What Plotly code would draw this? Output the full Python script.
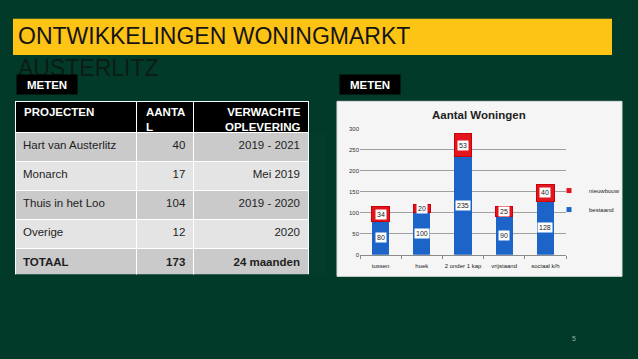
import plotly.graph_objects as go

W, H = 638, 359

# ---- data ----
table_header = ["PROJECTEN", "AANTA<br>L", "VERWACHTE<br>OPLEVERING"]
projects = ["Hart van Austerlitz", "Monarch", "Thuis in het Loo", "Overige", "<b>TOTAAL</b>"]
aantal = ["40", "17", "104", "12", "<b>173</b>"]
oplevering = ["2019 - 2021", "Mei 2019", "2019 - 2020", "2020", "<b>24 maanden</b>"]

categories = ["tussen", "hoek", "2 onder 1 kap", "vrijstaand", "sociaal k/h"]
bestaand = [80, 100, 235, 90, 128]
nieuwbouw = [34, 20, 53, 25, 40]
y_ticks = [0, 50, 100, 150, 200, 250, 300]

BG = "#023a2a"
YELLOW = "#fdc315"
BLUE = "#1c64c8"
RED = "#e3141c"
FONT = "Liberation Sans"

# table geometry (pixels)
TAB_X0, TAB_TOP = 15, 100
COL_W = [121.5, 56.8, 114.7]
HEAD_H, ROW_H = 31, 29
CELL_PAD = 7


def px(x):
    return x / W


def py(y):
    return 1 - y / H


fig = go.Figure()

# ---- table (header text is overlaid as annotations so the row keeps its height) ----
n_rows = len(projects)
fig.add_trace(go.Table(
    domain=dict(x=[px(TAB_X0), px(TAB_X0 + sum(COL_W))],
                y=[py(TAB_TOP + HEAD_H + n_rows * ROW_H), py(TAB_TOP)]),
    columnwidth=COL_W,
    header=dict(values=[" "] * len(table_header), fill_color="black",
                line=dict(color="white", width=1), height=HEAD_H,
                font=dict(family=FONT, size=11.5, color="white")),
    cells=dict(
        values=[projects, aantal, oplevering],
        fill_color=[["#cacaca", "#e4e4e4", "#cacaca", "#e4e4e4", "#cacaca"]] * 3,
        line=dict(color="white", width=1),
        font=dict(family=FONT, size=11.5, color="#1e1e1e"),
        align=["left", "right", "right"],
        height=ROW_H,
    ),
))

# ---- bar chart ----
fig.add_trace(go.Bar(
    x=categories, y=bestaand, name="bestaand", showlegend=False,
    marker=dict(color=BLUE, line=dict(width=0)),
))
fig.add_trace(go.Bar(
    x=categories, y=nieuwbouw, name="nieuwbouw", showlegend=False,
    marker=dict(color=RED, line=dict(color="#c8000a", width=1)),
))
# small square legend symbols
fig.add_trace(go.Scatter(x=[None], y=[None], mode="markers", name="nieuwbouw",
                         marker=dict(symbol="square", size=5, color=RED)))
fig.add_trace(go.Scatter(x=[None], y=[None], mode="markers", name="bestaand",
                         marker=dict(symbol="square", size=5, color=BLUE)))

annotations = []

# table header texts
x_left = TAB_X0
for i, (h, cw) in enumerate(zip(table_header, COL_W)):
    right = i == len(COL_W) - 1
    annotations.append(dict(
        x=px(x_left + cw - 5) if right else px(x_left + CELL_PAD),
        y=py(TAB_TOP + 3), xref="paper", yref="paper",
        xanchor="right" if right else "left", yanchor="top", showarrow=False,
        text=f"<b>{h}</b>", align="right" if right else "left",
        font=dict(family=FONT, size=11.5, color="white"),
    ))
    x_left += cw

# data labels with white boxes
for c, b, n in zip(categories, bestaand, nieuwbouw):
    annotations.append(dict(x=c, y=b / 2, xref="x", yref="y", text=str(b),
                            xanchor="center", yanchor="middle",
                            showarrow=False, bgcolor="white", borderpad=1,
                            font=dict(family=FONT, size=7, color="#222")))
    annotations.append(dict(x=c, y=b + n / 2, xref="x", yref="y", text=str(n),
                            xanchor="center", yanchor="middle",
                            showarrow=False, bgcolor="white", borderpad=1,
                            font=dict(family=FONT, size=7, color="#222")))

# chart title
annotations.append(dict(x=px(479), y=py(114), xref="paper", yref="paper",
                        xanchor="center", yanchor="middle",
                        text="<b>Aantal Woningen</b>", showarrow=False,
                        font=dict(family=FONT, size=11.5, color="#1e1e1e")))

# slide title
annotations.append(dict(x=px(16), y=py(34), xref="paper", yref="paper",
                        xanchor="left", yanchor="middle",
                        text="ONTWIKKELINGEN WONINGMARKT", showarrow=False,
                        font=dict(family=FONT, size=23, color="#141414")))
annotations.append(dict(x=px(16), y=py(66), xref="paper", yref="paper",
                        xanchor="left", yanchor="middle",
                        text="AUSTERLITZ", showarrow=False,
                        font=dict(family=FONT, size=23, color="#0c1c15")))

# METEN labels (drawn after the title so they sit on top)
for x0 in (16, 339):
    annotations.append(dict(x=px(x0), y=py(72.5), xref="paper", yref="paper",
                            xanchor="left", yanchor="top",
                            text="<b>METEN</b>", showarrow=False,
                            width=60, height=19, borderpad=0, bgcolor="black",
                            font=dict(family=FONT, size=11.5, color="white")))

# page number
annotations.append(dict(x=px(574), y=py(341), xref="paper", yref="paper",
                        xanchor="center", yanchor="middle",
                        text="5", showarrow=False,
                        font=dict(family=FONT, size=7, color="#8fb5a3")))

shapes = [
    dict(type="rect", xref="paper", yref="paper", x0=px(13), x1=px(612), y0=py(53), y1=py(16),
         fillcolor=YELLOW, line=dict(width=0), layer="below"),
    dict(type="rect", xref="paper", yref="paper", x0=px(337), x1=px(622), y0=py(278), y1=py(100),
         fillcolor="#f5f5f5", line=dict(color="#dcdcdc", width=1), layer="below"),
]

fig.update_layout(
    width=W, height=H,
    margin=dict(l=0, r=0, t=0, b=0),
    paper_bgcolor=BG,
    plot_bgcolor="rgba(0,0,0,0)",
    barmode="stack",
    bargap=0.58,
    showlegend=True,
    legend=dict(x=px(549), y=py(176), xanchor="left", yanchor="top",
                traceorder="normal", bgcolor="rgba(0,0,0,0)",
                font=dict(family=FONT, size=6, color="#222"),
                itemwidth=30, tracegroupgap=0),
    xaxis=dict(domain=[px(360), px(566)], showgrid=False, showline=True,
               linecolor="#8a8a8a", linewidth=1, ticks="outside", tickson="boundaries",
               ticklen=3, tickcolor="#8a8a8a", tickangle=0, ticklabelstandoff=5,
               tickfont=dict(family=FONT, size=6, color="#222"),
               fixedrange=True),
    yaxis=dict(domain=[py(256), py(128)], range=[0, 300], tickvals=y_ticks,
               showgrid=True, gridcolor="#a0a0a0", gridwidth=1, zeroline=False,
               showline=False, ticks="", ticklen=0,
               tickfont=dict(family=FONT, size=6, color="#333")),
    annotations=annotations,
    shapes=shapes,
)

fig.write_html("out.html", config={"displayModeBar": False},
               post_script="document.body.style.margin='0px';document.body.style.overflow='hidden';")
